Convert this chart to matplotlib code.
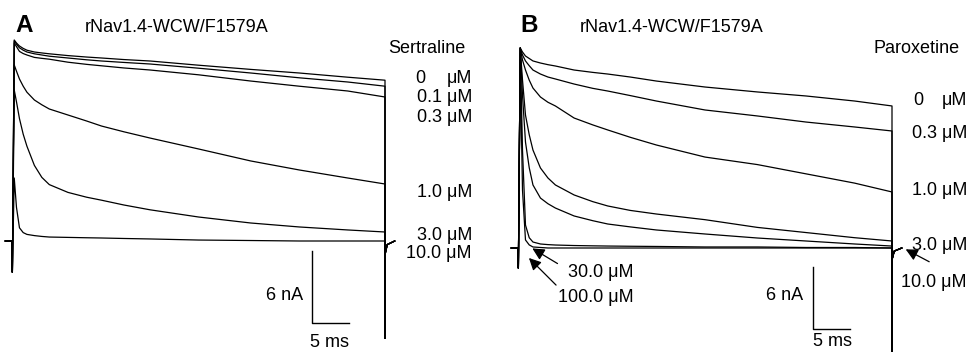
import numpy as np
import matplotlib
matplotlib.use("Agg")
import matplotlib.pyplot as plt

plt.rcParams['font.family'] = ['Liberation Sans', 'DejaVu Sans']

# Time grid (ms) for the test pulse, shared by all traces
t_grid = [0.3, 0.6, 1, 1.5, 2, 3, 4, 5, 7.5, 10, 12, 15, 18.5, 25, 32, 38.5, 45, 50]

# Panel A: sertraline, current in nA
sert_labels = ["0", "0.1 μM", "0.3 μM", "1.0 μM", "3.0 μM", "10.0 μM"]
sert_0 = [16.75, 16.5, 16.25, 16.05, 15.9, 15.75, 15.67, 15.6, 15.45, 15.33, 15.25, 15.12, 15.0, 14.65, 14.3, 14.0, 13.65, 13.4]
sert_01 = [16.67, 16.4, 16.1, 15.9, 15.75, 15.6, 15.5, 15.4, 15.25, 15.1, 15.0, 14.88, 14.75, 14.4, 14.0, 13.6, 13.25, 12.9]
sert_03 = [16.5, 16.2, 15.8, 15.62, 15.5, 15.3, 15.22, 15.15, 14.9, 14.72, 14.6, 14.42, 14.25, 13.85, 13.33, 12.9, 12.5, 12.0]
sert_1 = [14.67, 14.15, 13.5, 12.9, 12.4, 11.75, 11.35, 11.0, 10.5, 10.0, 9.58, 9.1, 8.58, 7.67, 6.67, 5.92, 5.25, 4.75]
sert_3 = [12.58, 11.6, 10.2, 8.9, 7.9, 6.3, 5.3, 4.7, 4.05, 3.65, 3.4, 3.0, 2.6, 2.0, 1.5, 1.17, 0.92, 0.75]
sert_10 = [5.25, 2.8, 1.1, 0.7, 0.55, 0.45, 0.38, 0.33, 0.3, 0.27, 0.25, 0.21, 0.17, 0.08, 0.04, 0.0, 0.0, 0.0]

# Panel B: paroxetine, current in nA
parox_0 = [19.42, 19.03, 18.64, 18.4, 18.16, 17.96, 17.8, 17.67, 17.28, 17.05, 16.89, 16.6, 16.21, 15.63, 15.15, 14.76, 14.27, 13.79]
parox_03 = [19.42, 18.74, 18.16, 17.7, 17.28, 16.89, 16.6, 16.41, 15.92, 15.5, 15.24, 14.8, 14.27, 13.4, 12.82, 12.23, 11.75, 11.36]
parox_1 = [19.42, 18.25, 17.28, 16.3, 15.53, 14.66, 14.15, 13.79, 12.62, 11.95, 11.46, 10.75, 10.0, 8.83, 8.1, 7.2, 6.3, 5.44]
parox_3 = [19.42, 16.31, 12.91, 11.0, 9.51, 7.77, 6.8, 6.12, 5.15, 4.5, 4.08, 3.65, 3.3, 2.75, 2.0, 1.5, 1.0, 0.68]
parox_10 = [19.42, 14.85, 10.29, 7.8, 6.12, 4.85, 4.3, 3.88, 3.11, 2.65, 2.33, 2.05, 1.75, 1.36, 0.97, 0.68, 0.39, 0.19]
parox_30 = [19.42, 9.51, 2.23, 1.0, 0.58, 0.39, 0.33, 0.29, 0.24, 0.21, 0.19, 0.17, 0.15, 0.1, 0.1, 0.05, 0.05, 0.0]
parox_100 = [18.25, 5.63, 0.78, 0.3, 0.1, 0.05, 0.0, 0.0, 0.0, 0.0, 0.0, 0.0, 0.0, 0.0, 0.0, 0.0, 0.0, 0.0]

# capacitive transients at pulse on / off
t_on = [-0.9, 0, 0.05]
i_on_a = [0, 0, -2.6]
i_on_b = [0, 0, -1.95]
t_off = [50, 50.05, 50.3, 51.3]
i_off_a = [-8.1, -1.0, -0.3, 0]
i_off_b = [-12.0, -1.0, -0.3, 0]


def trace(i_on, values, i_off):
    t = t_on + t_grid + t_off
    i = i_on + values + i_off
    return t, i


def px(x, y):
    # pixel position -> figure fraction
    return x / 970, 1 - y / 352


fig = plt.figure(figsize=(9.7, 3.52), dpi=100)
ax_a = fig.add_axes([0, 0, 0.5, 1])
ax_b = fig.add_axes([0.5, 0, 0.5, 1])

for vals in [sert_0, sert_01, sert_03, sert_1, sert_3, sert_10]:
    t, i = trace(i_on_a, vals, i_off_a)
    ax_a.plot(t, i, color="black", lw=0.9)

for vals in [parox_0, parox_03, parox_1, parox_3, parox_10, parox_30, parox_100]:
    t, i = trace(i_on_b, vals, i_off_b)
    ax_b.plot(t, i, color="black", lw=0.9)

ax_a.set_xlim(-1.609, 63.405)
ax_a.set_ylim(-9.25, 20.083)
ax_b.set_xlim(-4.412, 60.428)
ax_b.set_ylim(-10.097, 24.078)
for ax in (ax_a, ax_b):
    ax.axis("off")

# scale bars: 6 nA, 5 ms
ax_a.plot([40.2, 40.2, 45.2], [-0.83, -6.83, -6.83], color="black", lw=1.0)
ax_b.plot([39.4, 39.4, 44.4], [-1.86, -7.86, -7.86], color="black", lw=1.0)

fs = 13
# panel A texts
fig.text(*px(15, 32), "A", fontsize=17.5, fontweight="bold", va="baseline")
fig.text(*px(85, 32), "rNav1.4-WCW/F1579A", fontsize=fs, va="baseline")
fig.text(*px(465, 53), "Sertraline", fontsize=fs, va="baseline", ha="right")
fig.text(*px(415, 83), "0", fontsize=fs, va="baseline")
fig.text(*px(472, 83), "μM", fontsize=fs, va="baseline", ha="right")
for lab, yb in zip(sert_labels[1:], [102, 122, 197, 240, 258]):
    fig.text(*px(472, yb), lab, fontsize=fs, va="baseline", ha="right")
fig.text(*px(303, 300), "6 nA", fontsize=fs, va="baseline", ha="right")
fig.text(*px(330, 347), "5 ms", fontsize=fs, va="baseline", ha="center")

# panel B texts
fig.text(*px(520, 32), "B", fontsize=17.5, fontweight="bold", va="baseline")
fig.text(*px(580, 32), "rNav1.4-WCW/F1579A", fontsize=fs, va="baseline")
fig.text(*px(960, 53), "Paroxetine", fontsize=fs, va="baseline", ha="right")
fig.text(*px(913, 105), "0", fontsize=fs, va="baseline")
fig.text(*px(967, 105), "μM", fontsize=fs, va="baseline", ha="right")
fig.text(*px(967, 138), "0.3 μM", fontsize=fs, va="baseline", ha="right")
fig.text(*px(967, 195), "1.0 μM", fontsize=fs, va="baseline", ha="right")
fig.text(*px(967, 250), "3.0 μM", fontsize=fs, va="baseline", ha="right")
fig.text(*px(967, 287), "10.0 μM", fontsize=fs, va="baseline", ha="right")
fig.text(*px(568, 277), "30.0 μM", fontsize=fs, va="baseline")
fig.text(*px(558, 302), "100.0 μM", fontsize=fs, va="baseline")
fig.text(*px(803, 300), "6 nA", fontsize=fs, va="baseline", ha="right")
fig.text(*px(833, 346), "5 ms", fontsize=fs, va="baseline", ha="center")

arrow = dict(arrowstyle="-|>", color="black", lw=0.9, mutation_scale=18)
ax_b.annotate("", xy=(1.6, 0.1), xytext=(5.6, -1.65), arrowprops=arrow)
ax_b.annotate("", xy=(1.2, -0.78), xytext=(5.35, -3.79), arrowprops=arrow)
ax_b.annotate("", xy=(51.5, 0.0), xytext=(55.3, -1.46), arrowprops=arrow)

fig.savefig("out.png", dpi=100)
